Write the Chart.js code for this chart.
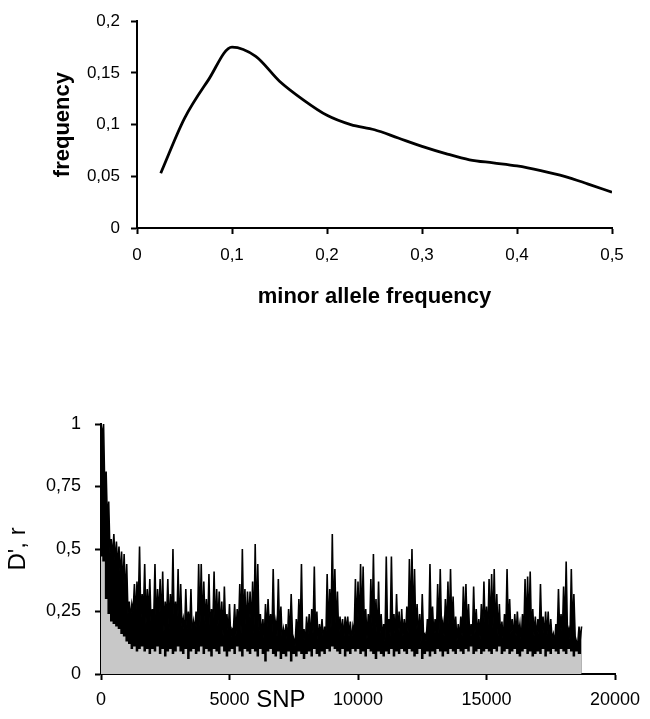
<!DOCTYPE html>
<html>
<head>
<meta charset="utf-8">
<title>MAF and LD</title>
<script src="https://cdn.jsdelivr.net/npm/chart.js@4.4.1/dist/chart.umd.min.js"></script>
<style>
  body { margin: 0; background: #fff; }
  #mafChart { position: absolute; left: 0; top: 0; }
  #ldChart { position: absolute; left: 0; top: 330px; }
</style>
</head>
<body>
<canvas id="mafChart" width="650" height="320"></canvas>
<canvas id="ldChart" width="650" height="389"></canvas>
<script>
const FONT = '"Liberation Sans", Arial, Helvetica, sans-serif';

// top panel: distribution of minor allele frequency
const mafX = [0.025, 0.05, 0.075, 0.1, 0.125, 0.15, 0.175, 0.2, 0.225, 0.25,
              0.275, 0.3, 0.325, 0.35, 0.375, 0.4, 0.425, 0.45, 0.475, 0.5];
const mafFreq = [0.053, 0.106, 0.143, 0.175, 0.166, 0.142, 0.124, 0.109, 0.100, 0.095,
                 0.087, 0.079, 0.072, 0.066, 0.063, 0.060, 0.0555, 0.050, 0.0425, 0.0346];
const mafXTicks = [0, 0.1, 0.2, 0.3, 0.4, 0.5];
const mafXTickLabels = ['0', '0,1', '0,2', '0,3', '0,4', '0,5'];
const mafYTicks = [0, 0.05, 0.1, 0.15, 0.2];
const mafYTickLabels = ['0', '0,05', '0,1', '0,15', '0,2'];

// bottom panel: D' spikes every 100 SNPs, with the low D' between two spikes
const snpStart = 0;
const snpStep = 100;
const dPeak = [
  1.0, 1.0, 0.81, 0.69, 0.54, 0.56, 0.53, 0.51, 0.49, 0.48,
  0.44, 0.29, 0.28, 0.36, 0.37, 0.51, 0.32, 0.44, 0.34, 0.38,
  0.26, 0.44, 0.34, 0.38, 0.41, 0.29, 0.38, 0.32, 0.50, 0.29,
  0.42, 0.36, 0.22, 0.34, 0.25, 0.34, 0.21, 0.25, 0.44, 0.44,
  0.37, 0.30, 0.40, 0.26, 0.41, 0.34, 0.33, 0.29, 0.35, 0.24,
  0.28, 0.18, 0.28, 0.26, 0.36, 0.50, 0.34, 0.33, 0.33, 0.37,
  0.52, 0.44, 0.24, 0.22, 0.28, 0.30, 0.24, 0.42, 0.21, 0.38,
  0.27, 0.18, 0.20, 0.26, 0.32, 0.14, 0.22, 0.30, 0.44, 0.18,
  0.23, 0.24, 0.26, 0.43, 0.25, 0.20, 0.22, 0.19, 0.40, 0.34,
  0.56, 0.42, 0.33, 0.23, 0.22, 0.23, 0.23, 0.21, 0.19, 0.38,
  0.37, 0.44, 0.43, 0.26, 0.24, 0.38, 0.48, 0.30, 0.37, 0.24,
  0.20, 0.47, 0.22, 0.47, 0.24, 0.32, 0.25, 0.26, 0.22, 0.27,
  0.46, 0.50, 0.42, 0.28, 0.24, 0.32, 0.16, 0.22, 0.44, 0.27,
  0.22, 0.36, 0.42, 0.21, 0.30, 0.37, 0.42, 0.31, 0.23, 0.20,
  0.23, 0.35, 0.36, 0.28, 0.20, 0.35, 0.26, 0.22, 0.28, 0.37,
  0.27, 0.38, 0.40, 0.42, 0.32, 0.28, 0.21, 0.24, 0.42, 0.30,
  0.22, 0.24, 0.25, 0.20, 0.24, 0.38, 0.39, 0.41, 0.26, 0.23,
  0.22, 0.36, 0.23, 0.25, 0.25, 0.22, 0.16, 0.20, 0.34, 0.24,
  0.35, 0.45, 0.18, 0.42, 0.32, 0.13, 0.19, 0.19
];
const dTrough = [
  0.95, 0.72, 0.60, 0.48, 0.46, 0.44, 0.42, 0.38, 0.34, 0.30,
  0.24, 0.22, 0.25, 0.22, 0.26, 0.21, 0.24, 0.20, 0.23, 0.19,
  0.21, 0.18, 0.22, 0.19, 0.17, 0.21, 0.18, 0.20, 0.17, 0.19,
  0.16, 0.19, 0.15, 0.18, 0.17, 0.14, 0.18, 0.16, 0.19, 0.17,
  0.20, 0.17, 0.15, 0.18, 0.16, 0.19, 0.17, 0.15, 0.18, 0.16,
  0.14, 0.17, 0.15, 0.18, 0.16, 0.19, 0.17, 0.20, 0.18, 0.16,
  0.19, 0.17, 0.15, 0.13, 0.16, 0.18, 0.14, 0.17, 0.15, 0.16,
  0.13, 0.15, 0.12, 0.14, 0.16, 0.11, 0.14, 0.15, 0.13, 0.12,
  0.15, 0.13, 0.16, 0.14, 0.12, 0.15, 0.13, 0.14, 0.16, 0.18,
  0.20, 0.17, 0.15, 0.16, 0.14, 0.17, 0.15, 0.13, 0.16, 0.18,
  0.17, 0.19, 0.16, 0.14, 0.15, 0.18, 0.16, 0.13, 0.15, 0.14,
  0.13, 0.17, 0.15, 0.18, 0.14, 0.16, 0.13, 0.15, 0.14, 0.16,
  0.19, 0.18, 0.16, 0.14, 0.12, 0.15, 0.13, 0.14, 0.17, 0.15,
  0.14, 0.16, 0.18, 0.15, 0.17, 0.16, 0.18, 0.15, 0.13, 0.14,
  0.15, 0.17, 0.16, 0.14, 0.13, 0.16, 0.15, 0.14, 0.16, 0.17,
  0.15, 0.17, 0.18, 0.16, 0.15, 0.14, 0.13, 0.15, 0.17, 0.16,
  0.14, 0.15, 0.16, 0.13, 0.15, 0.17, 0.18, 0.16, 0.15, 0.14,
  0.15, 0.16, 0.14, 0.15, 0.13, 0.14, 0.12, 0.14, 0.16, 0.15,
  0.17, 0.16, 0.14, 0.17, 0.15, 0.12, 0.14
];
const rValue = [
  0.47, 0.45, 0.30, 0.24, 0.21, 0.20, 0.19, 0.18, 0.16, 0.15,
  0.13, 0.12, 0.10, 0.11, 0.09, 0.10, 0.11, 0.09, 0.10, 0.08,
  0.10, 0.09, 0.11, 0.08, 0.10, 0.07, 0.09, 0.10, 0.08, 0.09,
  0.11, 0.09, 0.08, 0.10, 0.06, 0.09, 0.10, 0.08, 0.09, 0.11,
  0.08, 0.10, 0.09, 0.07, 0.10, 0.09, 0.08, 0.11, 0.09, 0.07,
  0.09, 0.10, 0.08, 0.11, 0.09, 0.07, 0.10, 0.09, 0.08, 0.10,
  0.09, 0.07, 0.10, 0.08, 0.05, 0.09, 0.10, 0.08, 0.07, 0.09,
  0.06, 0.08, 0.07, 0.09, 0.05, 0.08, 0.07, 0.09, 0.08, 0.06,
  0.08, 0.09, 0.07, 0.10, 0.08, 0.07, 0.09, 0.08, 0.10, 0.09,
  0.11, 0.10, 0.09, 0.08, 0.10, 0.07, 0.09, 0.08, 0.10, 0.09,
  0.10, 0.08, 0.09, 0.07, 0.10, 0.09, 0.08, 0.06, 0.09, 0.08,
  0.07, 0.09, 0.08, 0.10, 0.07, 0.09, 0.08, 0.10, 0.09, 0.08,
  0.10, 0.09, 0.07, 0.08, 0.10, 0.06, 0.08, 0.09, 0.07, 0.09,
  0.08, 0.10, 0.09, 0.07, 0.09, 0.08, 0.10, 0.09, 0.08, 0.10,
  0.09, 0.08, 0.10, 0.09, 0.11, 0.08, 0.09, 0.10, 0.08, 0.09,
  0.10, 0.09, 0.08, 0.10, 0.09, 0.11, 0.08, 0.09, 0.10, 0.08,
  0.09, 0.10, 0.08, 0.07, 0.09, 0.10, 0.08, 0.09, 0.07, 0.08,
  0.09, 0.08, 0.10, 0.07, 0.09, 0.08, 0.10, 0.09, 0.08, 0.10,
  0.09, 0.08, 0.10, 0.09, 0.07, 0.09, 0.08, 0.08
];
const ldXTicks = [0, 5000, 10000, 15000, 20000];
const ldXTickLabels = ['0', '5000', '10000', '15000', '20000'];
const ldYTicks = [0, 0.25, 0.5, 0.75, 1];
const ldYTickLabels = ['0', '0,25', '0,5', '0,75', '1'];
const ldXTitle = 'SNP';
const ldXTitlePos = 7000;

// black axes with outside tick marks and no grid
function axis(ticks, labels, fontSize, pad) {
  return {
    type: 'linear',
    min: ticks[0],
    max: ticks[ticks.length - 1],
    afterBuildTicks: s => { s.ticks = ticks.map(v => ({ value: v })); },
    border: { display: true, color: '#000', width: 2 },
    grid: { display: true, drawOnChartArea: false, drawTicks: true, tickLength: 6, tickColor: '#000', tickWidth: 2 },
    ticks: {
      color: '#000',
      font: { family: FONT, size: fontSize },
      padding: pad,
      autoSkip: false,
      maxRotation: 0,
      callback: (v, i) => labels[i]
    }
  };
}

const mafXAxis = axis(mafXTicks, mafXTickLabels, 17, 11);
mafXAxis.afterFit = s => { s.height = 92; };
mafXAxis.title = { display: true, text: 'minor allele frequency', color: '#000',
  font: { family: FONT, size: 22, weight: 'bold' }, padding: { top: 0, bottom: 10 } };

const mafYAxis = axis(mafYTicks, mafYTickLabels, 17, 11);
mafYAxis.afterFit = s => { s.width = 137; };
mafYAxis.title = { display: true, text: 'frequency', color: '#000',
  font: { family: FONT, size: 22, weight: 'bold' }, padding: { top: 50, bottom: 0 } };

new Chart(document.getElementById('mafChart'), {
  type: 'line',
  data: {
    datasets: [{
      data: mafX.map((x, i) => ({ x: x, y: mafFreq[i] })),
      borderColor: '#000',
      borderWidth: 2.8,
      pointRadius: 0,
      cubicInterpolationMode: 'monotone',
      fill: false
    }]
  },
  options: {
    responsive: false,
    animation: false,
    layout: { padding: { top: 18, right: 38, left: 0, bottom: 0 } },
    plugins: { legend: { display: false }, tooltip: { enabled: false } },
    scales: { x: mafXAxis, y: mafYAxis }
  }
});

const ldXAxis = axis(ldXTicks, ldXTickLabels, 18, 9);
ldXAxis.afterFit = s => { s.height = 45; };

const ldYAxis = axis(ldYTicks, ldYTickLabels, 18, 14);
ldYAxis.afterFit = s => { s.width = 101; };
ldYAxis.title = { display: true, text: "D', r", color: '#000',
  font: { family: FONT, size: 24 }, padding: { top: 4, bottom: 0 } };

// 'SNP' sits on the tick label line, between 5000 and 10000
const snpTitle = {
  id: 'snpTitle',
  afterDraw(chart) {
    const { ctx, scales: { x } } = chart;
    ctx.save();
    ctx.font = '24px ' + FONT;
    ctx.fillStyle = '#000';
    ctx.textAlign = 'center';
    ctx.textBaseline = 'middle';
    ctx.fillText(ldXTitle, x.getPixelForValue(ldXTitlePos), x.top + 26);
    ctx.restore();
  }
};

// spike at every step, low value half way to the next spike
const dPrimePoints = [];
dPeak.forEach((v, i) => {
  const pos = snpStart + i * snpStep;
  dPrimePoints.push({ x: pos, y: v });
  if (i < dTrough.length) dPrimePoints.push({ x: pos + snpStep / 2, y: dTrough[i] });
});
const rPoints = rValue.map((v, i) => ({ x: snpStart + i * snpStep, y: v }));

new Chart(document.getElementById('ldChart'), {
  type: 'line',
  data: {
    datasets: [
      {
        label: 'r',
        data: rPoints,
        borderColor: '#c8c8c8',
        backgroundColor: '#c8c8c8',
        borderWidth: 0,
        pointRadius: 0,
        stepped: 'middle',
        fill: 'origin',
        order: 0
      },
      {
        label: "D'",
        data: dPrimePoints,
        borderColor: '#000',
        backgroundColor: '#000',
        borderWidth: 1.6,
        pointRadius: 0,
        fill: 'origin',
        order: 1
      }
    ]
  },
  options: {
    responsive: false,
    animation: false,
    layout: { padding: { top: 94, right: 35, left: 0, bottom: 0 } },
    plugins: { legend: { display: false }, tooltip: { enabled: false } },
    scales: { x: ldXAxis, y: ldYAxis }
  },
  plugins: [snpTitle]
});
</script>
</body>
</html>
